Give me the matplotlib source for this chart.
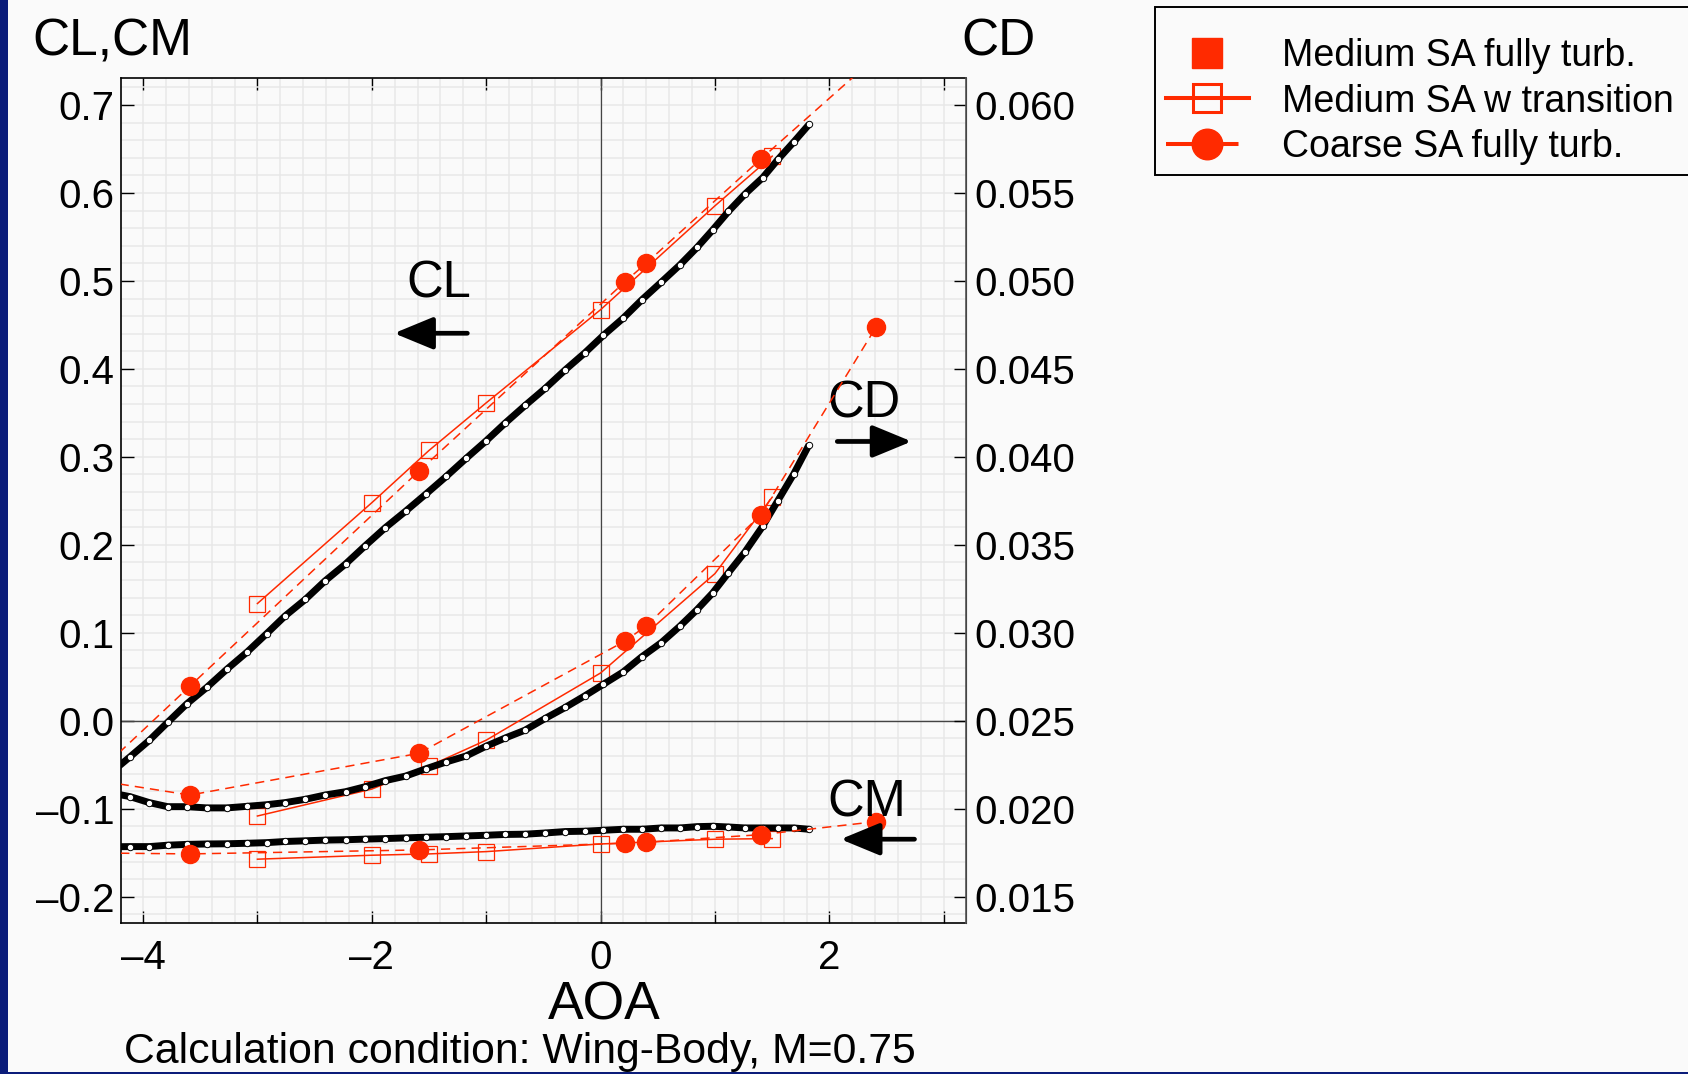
import matplotlib
matplotlib.use('Agg')
import matplotlib.pyplot as plt
from matplotlib.lines import Line2D
from matplotlib.patches import Rectangle
from matplotlib.ticker import MultipleLocator, FixedLocator

plt.rcParams['font.family'] = ['Liberation Sans', 'DejaVu Sans']

RED = '#ff2a00'
BG = '#fafafa'
NAVY = '#0b1c7a'

# ---------------- data ----------------
# black reference curve (white-dotted thick line)
ref_aoa = [-4.28, -4.113, -3.945, -3.785, -3.617, -3.443, -3.267, -3.089, -2.920, -2.759,
           -2.580, -2.410, -2.230, -2.061, -1.882, -1.704, -1.524, -1.350, -1.176, -1.000,
           -0.835, -0.660, -0.483, -0.309, -0.138, 0.025, 0.198, 0.358, 0.532, 0.695,
           0.843, 0.980, 1.118, 1.261, 1.418, 1.550, 1.689, 1.823]
ref_cl = [-0.059, -0.0409, -0.0222, -0.0018, 0.0193, 0.0379, 0.0586, 0.0783, 0.0990, 0.1191,
          0.1381, 0.1589, 0.1782, 0.1986, 0.2195, 0.2383, 0.2581, 0.2777, 0.2982, 0.3183,
          0.3383, 0.3584, 0.3780, 0.3989, 0.4182, 0.4382, 0.4577, 0.4782, 0.4988, 0.5184,
          0.538, 0.558, 0.579, 0.5986, 0.6175, 0.638, 0.658, 0.678]
ref_cd = [0.0209, 0.02069, 0.02035, 0.02012, 0.02012, 0.02005, 0.02005, 0.02014, 0.02023, 0.02035,
          0.02054, 0.02078, 0.02097, 0.02125, 0.02160, 0.02186, 0.02228, 0.02266, 0.02300, 0.02356,
          0.02402, 0.02447, 0.02514, 0.02576, 0.02642, 0.02708, 0.02778, 0.02863, 0.02945, 0.03039,
          0.03132, 0.03227, 0.03342, 0.03459, 0.03607, 0.03752, 0.03904, 0.04070]
ref_cm = [-0.1432, -0.1430, -0.1430, -0.1414, -0.1405, -0.1400, -0.1398, -0.1392, -0.1385, -0.1372,
          -0.1364, -0.1356, -0.1352, -0.1345, -0.1339, -0.1331, -0.1323, -0.1317, -0.1309, -0.1301,
          -0.1292, -0.1289, -0.1275, -0.1259, -0.1255, -0.1244, -0.1233, -0.1233, -0.1218, -0.1218,
          -0.1203, -0.1199, -0.1207, -0.1218, -0.1218, -0.1218, -0.1218, -0.1233]

# Medium SA fully turb. (legend only, no visible points)
med_turb_aoa = []
med_turb_cl = []

# Medium SA w transition
trans_aoa = [-3.0, -2.0, -1.5, -1.0, 0.0, 1.0, 1.5]
trans_cl = [0.1333, 0.2479, 0.3073, 0.3614, 0.4673, 0.5854, 0.6418]
trans_cd = [0.01959, 0.02112, 0.02243, 0.02390, 0.02772, 0.03337, 0.03771]
trans_cm = [-0.1573, -0.1528, -0.1513, -0.1487, -0.1400, -0.1346, -0.1339]

# Coarse SA fully turb.
coarse_aoa = [-4.6, -3.59, -1.59, 0.21, 0.40, 1.40, 2.41]
coarse_cl = [-0.084, 0.0394, 0.2836, 0.4987, 0.5203, 0.6384, 0.755]
coarse_cd = [0.02181, 0.02078, 0.02315, 0.02952, 0.03040, 0.03671, 0.0474]
coarse_cm = [-0.1500, -0.1513, -0.1468, -0.1392, -0.1380, -0.1294, -0.1146]

legend_labels = ['Medium SA fully turb.', 'Medium SA w transition', 'Coarse SA fully turb.']
x_ticks = [-4, -3, -2, -1, 0, 1, 2, 3]
x_ticklabels = ['\u20134', '', '\u20132', '', '0', '', '2', '']
cl_ticks = [-0.2, -0.1, 0.0, 0.1, 0.2, 0.3, 0.4, 0.5, 0.6, 0.7]
cl_ticklabels = ['\u20130.2', '\u20130.1', '0.0', '0.1', '0.2', '0.3', '0.4', '0.5', '0.6', '0.7']
cd_ticks = [0.015, 0.020, 0.025, 0.030, 0.035, 0.040, 0.045, 0.050, 0.055, 0.060]
cd_ticklabels = ['0.015', '0.020', '0.025', '0.030', '0.035', '0.040', '0.045', '0.050', '0.055', '0.060']

# ---------------- figure ----------------
fig = plt.figure(figsize=(16.88, 10.74), dpi=100, facecolor=BG)
fig.patches.append(Rectangle((0, 0), 8 / 1688, 1, transform=fig.transFigure,
                             facecolor=NAVY, edgecolor='none', zorder=0))
fig.patches.append(Rectangle((0, 0), 1, 2.5 / 1074, transform=fig.transFigure,
                             facecolor=NAVY, edgecolor='none', zorder=0))

ax = fig.add_axes([0.07186, 0.1403, 0.5004, 0.7868])
ax.set_facecolor(BG)
ax.set_xlim(-4.19, 3.194)
ax.set_ylim(-0.2302, 0.7303)
ax2 = ax.twinx()
ax2.set_ylim(0.01349, 0.06152)

# grid
ax.xaxis.set_minor_locator(MultipleLocator(0.2))
ax.yaxis.set_minor_locator(MultipleLocator(0.02))
ax.grid(which='both', color='#e8e8e8', lw=1.1)
ax.set_axisbelow(True)
ax.axhline(0, color='#444444', lw=1.0, zorder=1)
ax.axvline(0, color='#444444', lw=0.9, zorder=1)

# ticks
ax.xaxis.set_major_locator(FixedLocator(x_ticks))
ax.set_xticklabels(x_ticklabels)
ax.set_yticks(cl_ticks)
ax.set_yticklabels(cl_ticklabels)
ax.tick_params(axis='x', which='major', direction='in', length=8.5, width=1.0,
               top=True, bottom=True, labelsize=29, pad=11)
ax.tick_params(axis='y', which='major', direction='in', length=9.5, width=1.0,
               left=True, right=False, labelsize=29, pad=5)
ax.tick_params(which='minor', length=0)
ax2.set_yticks(cd_ticks)
ax2.set_yticklabels(cd_ticklabels)
ax2.tick_params(axis='y', direction='in', length=9, width=1.0, labelsize=29, pad=6,
                colors='black')
for s in ['left', 'top', 'bottom']:
    ax.spines[s].set_color('black')
    ax.spines[s].set_linewidth(1.2)
ax2.spines['right'].set_color('#555555')
ax2.spines['right'].set_linewidth(1.2)
for s in ['left', 'top', 'bottom']:
    ax2.spines[s].set_visible(False)

# ---------------- data marks ----------------
sq_kw = dict(color=RED, lw=1.1, marker='s', ms=11.5, mfc='none', mec=RED, mew=0.9, zorder=2)
co_kw = dict(color=RED, lw=1.1, ls=(0, (6, 4)), marker='o', ms=13, mfc=RED, mec=RED, zorder=4)
ref_kw = dict(color='black', lw=5.0, marker='o', ms=4.6, mfc='white', mec='black', mew=0.7,
              zorder=3, solid_capstyle='butt')

ax.plot(med_turb_aoa, med_turb_cl, ls='none', marker='s', color=RED)
ax.plot(trans_aoa, trans_cl, **sq_kw)
ax.plot(trans_aoa, trans_cm, **sq_kw)
ax.plot(ref_aoa, ref_cl, **ref_kw)
ax.plot(ref_aoa, ref_cm, **ref_kw)
ax.plot(coarse_aoa, coarse_cl, **co_kw)
ax.plot(coarse_aoa, coarse_cm, **co_kw)

ax2.plot(trans_aoa, trans_cd, **sq_kw)
ax2.plot(ref_aoa, ref_cd, **ref_kw)
ax2.plot(coarse_aoa, coarse_cd, **co_kw)

# ---------------- annotations ----------------
arrow_kw = dict(arrowstyle='-|>,head_length=0.8,head_width=0.33', color='black', lw=3.4,
                mutation_scale=30, shrinkA=0, shrinkB=0)
ax.annotate('', xy=(-1.806, 0.4405), xytext=(-1.165, 0.4405), arrowprops=arrow_kw, zorder=6)
ax.annotate('', xy=(2.719, 0.3175), xytext=(2.069, 0.3175), arrowprops=arrow_kw, zorder=6)
ax.annotate('', xy=(2.098, -0.1346), xytext=(2.744, -0.1346), arrowprops=arrow_kw, zorder=6)
ax.text(-1.419, 0.4813, 'CL', fontsize=36.5, ha='center', va='baseline', zorder=6)
ax.text(2.302, 0.3451, 'CD', fontsize=36.5, ha='center', va='baseline', zorder=6)
ax.text(2.323, -0.1090, 'CM', fontsize=36.5, ha='center', va='baseline', zorder=6)

fig.text(32 / 1688, 1 - 55 / 1074, 'CL,CM', fontsize=37, ha='left', va='baseline')
fig.text(961 / 1688, 1 - 55 / 1074, 'CD', fontsize=37, ha='left', va='baseline')
fig.text(604 / 1688, 1 - 1019 / 1074, 'AOA', fontsize=38.5, ha='center', va='baseline')
fig.text(519.5 / 1688, 1 - 1063 / 1074, 'Calculation condition: Wing-Body, M=0.75',
         fontsize=30.8, ha='center', va='baseline')

# ---------------- legend ----------------
fig.patches.append(Rectangle((1155 / 1688, 1 - 175 / 1074), 0.4, (175 - 7.3) / 1074,
                             transform=fig.transFigure, facecolor=BG, edgecolor='black',
                             lw=1.4, zorder=1))
handles = [
    Line2D([], [], ls='none', marker='s', ms=22, mfc=RED, mec=RED),
    Line2D([], [], color=RED, lw=2.9, marker='s', ms=20, mfc='none', mec=RED, mew=2.2),
    Line2D([], [], color=RED, lw=2.9, ls=(0, (18, 2.8)), marker='o', ms=22, mfc=RED, mec=RED),
]
leg = fig.legend(handles, legend_labels, loc='center left',
                 bbox_to_anchor=(1166 / 1688, 1 - 101.5 / 1074), frameon=False,
                 fontsize=27, handlelength=2.2, handletextpad=0.9, labelspacing=0.26,
                 borderpad=0, borderaxespad=0)
leg.set_zorder(5)

fig.savefig('out.png', dpi=100, facecolor=BG)
